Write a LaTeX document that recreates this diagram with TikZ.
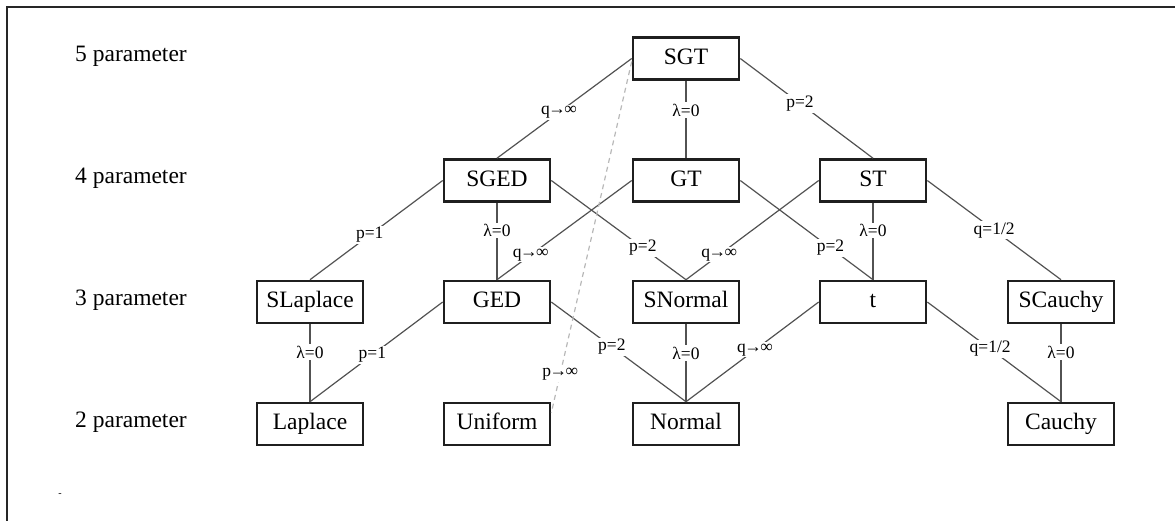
\documentclass[tikz,border=0pt]{standalone}
\usepackage{fontspec}
\setmainfont{Liberation Serif}
\usetikzlibrary{calc}
\newcommand{\tendsto}{\kern-1.5pt→\kern-1.5pt}
\begin{document}
\begin{tikzpicture}[x=1pt,y=-1pt,
  dist/.style={draw=black!88, line width=2.6pt, minimum width=106pt, minimum height=42pt, inner sep=0pt,
    font=\fontsize{23.5}{28}\selectfont, text height=16pt, text depth=5pt},
  rowlab/.style={anchor=west, inner sep=0pt, font=\fontsize{23.5}{28}\selectfont},
  conn/.style={draw=black!68, line width=1.2pt},
  lab/.style={fill=white, inner sep=1.5pt, font=\fontsize{17.5}{20}\selectfont},
  limit/.style={draw=black!28, line width=1.2pt, dash pattern=on 5pt off 4pt},
  frame/.style={draw=black!85, line width=2.2pt}
]
\useasboundingbox (0,0) rectangle (1175,520);
\draw[frame] (7,521) -- (7,7) -- (1176,7);

% row labels
\node[rowlab] (L5) at (75,56.5) {5 parameter};
\node[rowlab] (L4) at (75,178.5) {4 parameter};
\node[rowlab] (L3) at (75,300) {3 parameter};
\node[rowlab] (L2) at (75,422) {2 parameter};
\node[inner sep=0pt, font=\fontsize{10}{10}\selectfont] (mark) at (60,495) {-};

% distributions
\node[dist] (SGT) at (686,58.5) {SGT};
\node[dist] (SGED) at (497,180.5) {SGED};
\node[dist] (GT) at (686,180.5) {GT};
\node[dist] (ST) at (873,180.5) {ST};
\node[dist] (SLaplace) at (310,302) {SLaplace};
\node[dist] (GED) at (497,302) {GED};
\node[dist] (SNormal) at (686,302) {SNormal};
\node[dist] (tdist) at (873,302) {t};
\node[dist] (SCauchy) at (1061,302) {SCauchy};
\node[dist] (Laplace) at (310,424) {Laplace};
\node[dist] (Uniform) at (497,424) {Uniform};
\node[dist] (Normal) at (686,424) {Normal};
\node[dist] (Cauchy) at (1061,424) {Cauchy};

% 5 -> 4
\draw[conn] (SGT.west) -- node[lab,pos=0.54]{q\tendsto∞} (SGED.north);
\draw[conn] (SGT.south) -- node[lab,pos=0.38]{λ=0} (GT.north);
\draw[conn] (SGT.east) -- node[lab,pos=0.45]{p=2} (ST.north);

% 4 -> 3
\draw[conn] (SGED.west) -- node[lab,pos=0.55]{p=1} (SLaplace.north);
\draw[conn] (SGED.south) -- node[lab,pos=0.36]{λ=0} (GED.north);
\draw[conn] (SGED.east) -- node[lab,pos=0.68]{p=2} (SNormal.north);
\draw[conn] (GT.west) -- node[lab,pos=0.75]{q\tendsto∞} (GED.north);
\draw[conn] (GT.east) -- node[lab,pos=0.68]{p=2} (tdist.north);
\draw[conn] (ST.west) -- node[lab,pos=0.75]{q\tendsto∞} (SNormal.north);
\draw[conn] (ST.south) -- node[lab,pos=0.36]{λ=0} (tdist.north);
\draw[conn] (ST.east) -- node[lab,pos=0.5]{q=1/2} (SCauchy.north);

% 3 -> 2
\draw[conn] (SLaplace.south) -- node[lab,pos=0.36]{λ=0} (Laplace.north);
\draw[conn] (GED.west) -- node[lab,pos=0.53]{p=1} (Laplace.north);
\draw[conn] (GED.east) -- node[lab,pos=0.45]{p=2} (Normal.north);
\draw[conn] (SNormal.south) -- node[lab,pos=0.37]{λ=0} (Normal.north);
\draw[conn] (tdist.west) -- node[lab,pos=0.48]{q\tendsto∞} (Normal.north);
\draw[conn] (tdist.east) -- node[lab,pos=0.47]{q=1/2} (Cauchy.north);
\draw[conn] (SCauchy.south) -- node[lab,pos=0.36]{λ=0} (Cauchy.north);

% limit to uniform
\draw[limit] ($(SGT.west)+(0,3)$) -- node[lab,pos=0.89]{p\tendsto∞} ($(Uniform.north east)!0.25!(Uniform.south east)$);
\end{tikzpicture}
\end{document}
